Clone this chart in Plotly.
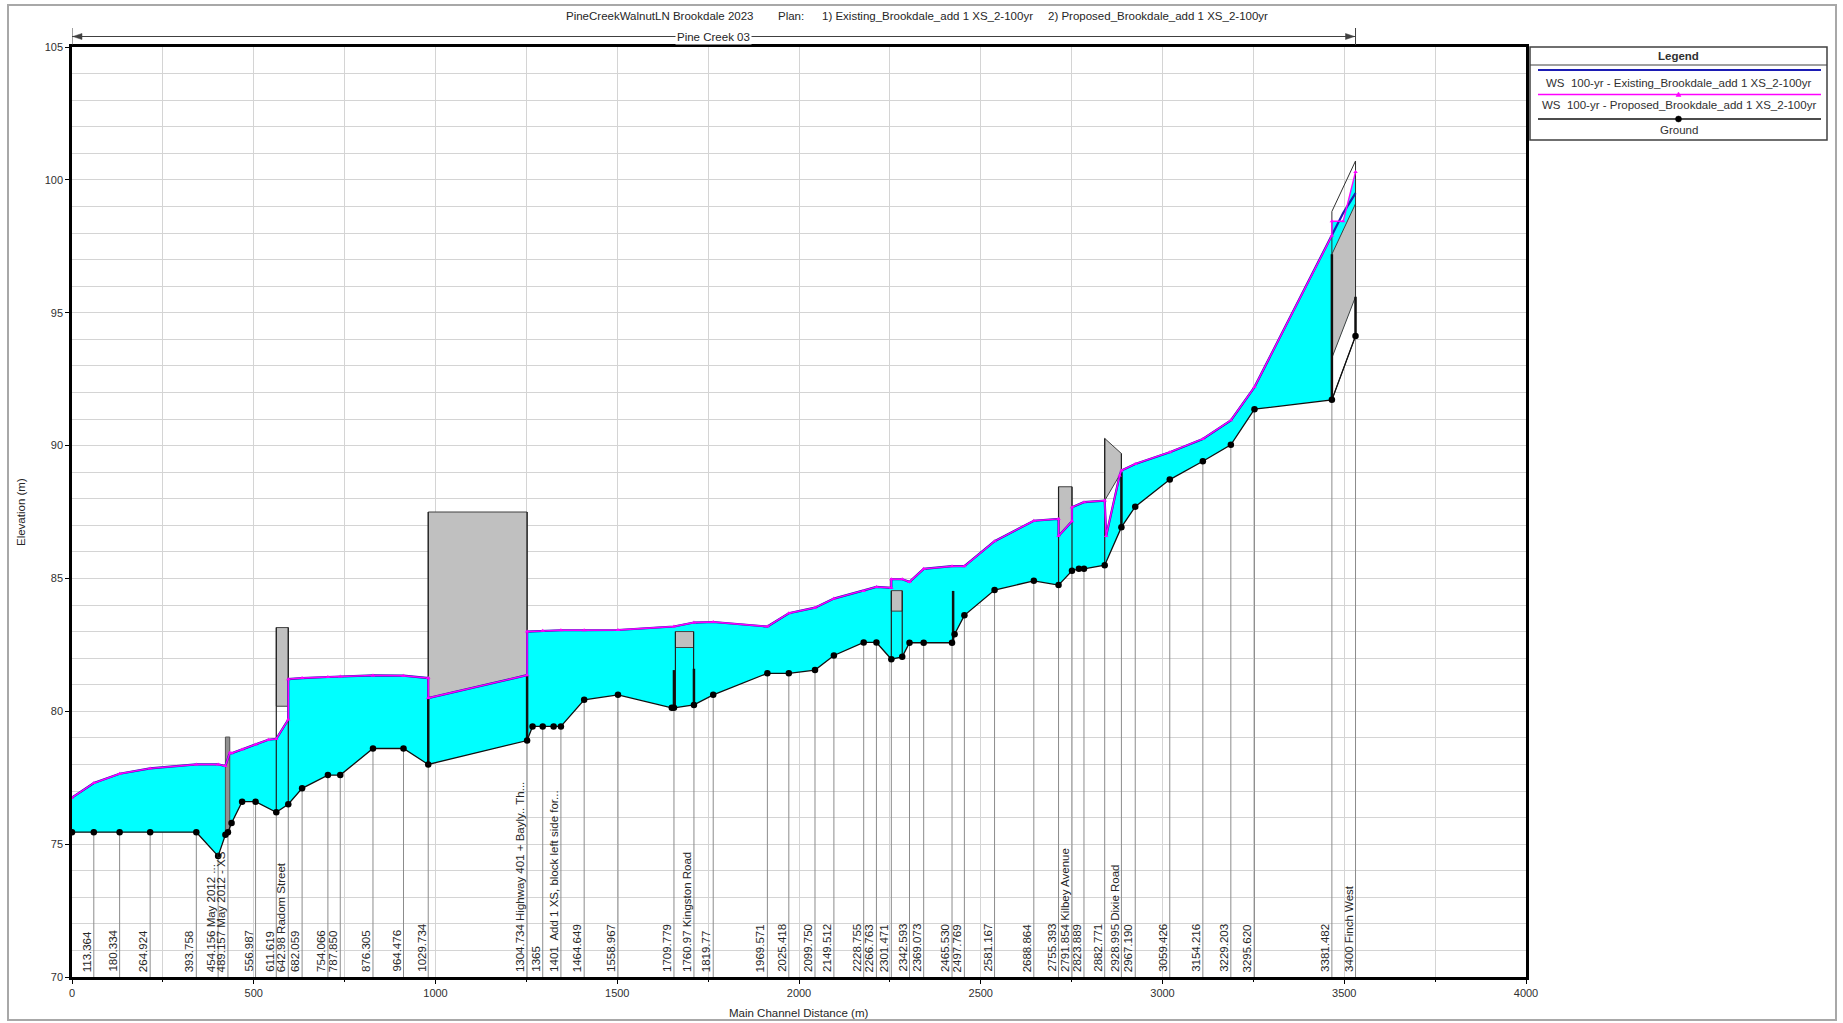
import numpy as np
import plotly.graph_objects as go

# ---------------- canvas / layout (pixels) ----------------
W, H = 1843, 1023
PL, PR, PT, PB = 72, 1526, 47, 977

FONT = "Liberation Sans, Arial, sans-serif"

# ---------------- text ----------------
title_parts = ["PineCreekWalnutLN Brookdale 2023", "Plan:",
               "1) Existing_Brookdale_add 1 XS_2-100yr",
               "2) Proposed_Brookdale_add 1 XS_2-100yr"]
title_x_px = [564, 776, 820, 1046]

reach_name = "Pine Creek 03"
reach_start, reach_end = 0, 3531

legend_names = ["WS  100-yr - Existing_Brookdale_add 1 XS_2-100yr",
                "WS  100-yr - Proposed_Brookdale_add 1 XS_2-100yr",
                "Ground"]

# ---------------- cross sections ----------------
xs_dist = [60, 131, 215, 342, 402, 429, 505, 562, 595, 633, 704, 738, 828, 912, 980,
           1252, 1295, 1345, 1409, 1502, 1656, 1711, 1764, 1913, 1972, 2044, 2096,
           2178, 2213, 2254, 2304, 2343, 2421, 2455, 2538, 2646, 2714, 2751, 2784,
           2841, 2887, 2925, 3020, 3111, 3188, 3253, 3466, 3531]
xs_labels = ["113.364", "180.334", "264.924", "393.758", "454.156 May 2012 ...",
             "489.157 May 2012 - XS", "556.987", "611.619", "642.98 Radom Street",
             "682.059", "754.066", "787.850", "876.305", "964.476", "1029.734",
             "1304.734 Highway 401 + Bayly.. Th...", "1365",
             "1401  Add 1 XS, block left side for...", "1464.649", "1558.967",
             "1709.779", "1760.97 Kingston Road", "1819.77", "1969.571", "2025.418",
             "2099.750", "2149.512", "2228.755", "2266.763", "2301.471", "2342.593",
             "2369.073", "2465.530", "2497.769", "2581.167", "2688.864", "2755.393",
             "2791.854 Kilbey Avenue", "2823.889", "2882.771", "2928.995 Dixie Road",
             "2967.190", "3059.426", "3154.216", "3229.203", "3295.620", "3381.482",
             "3400 Finch West"]

# ---------------- ground profile ----------------
ground_dist = [0, 60, 131, 215, 342, 402, 422, 429, 439, 468, 505, 562, 595, 633, 704,
               738, 828, 912, 980, 1252, 1267, 1295, 1325, 1345, 1409, 1502, 1650, 1656,
               1711, 1764, 1913, 1972, 2044, 2096, 2178, 2213, 2254, 2284, 2304, 2343,
               2421, 2428, 2455, 2538, 2646, 2714, 2751, 2770, 2784, 2841, 2887, 2925,
               3020, 3111, 3188, 3253, 3466, 3531]
ground_elev = [75.45, 75.45, 75.45, 75.45, 75.45, 74.55, 75.35, 75.45, 75.8, 76.6, 76.6,
               76.2, 76.5, 77.1, 77.6, 77.6, 78.6, 78.6, 78.0, 78.9, 79.43, 79.43, 79.43,
               79.43, 80.43, 80.62, 80.13, 80.13, 80.24, 80.62, 81.43, 81.43, 81.55, 82.1,
               82.59, 82.59, 81.96, 82.05, 82.58, 82.58, 82.58, 82.9, 83.61, 84.56, 84.91,
               84.75, 85.29, 85.36, 85.36, 85.5, 86.93, 87.7, 88.72, 89.41, 90.03, 91.37,
               91.72, 94.12]

# ---------------- water surface profiles ----------------
ws_dist = [0, 60, 131, 215, 342, 402, 422, 434, 439, 468, 505, 540, 562, 595, 595, 633,
           704, 738, 828, 912, 980, 980, 1252, 1252, 1295, 1345, 1409, 1502, 1656, 1711,
           1764, 1913, 1972, 2044, 2096, 2178, 2213, 2254, 2254, 2284, 2304, 2343, 2421,
           2455, 2538, 2646, 2714, 2714, 2751, 2751, 2784, 2841, 2845, 2882, 2887, 2925,
           3020, 3111, 3188, 3253, 3466, 3466, 3497, 3531]
ws_prop = [76.75, 77.3, 77.65, 77.85, 78.0, 78.0, 77.94, 78.44, 78.42, 78.56, 78.75,
           78.93, 78.96, 79.69, 81.21, 81.25, 81.29, 81.31, 81.35, 81.34, 81.25, 80.5,
           81.36, 83.0, 83.03, 83.05, 83.05, 83.06, 83.19, 83.34, 83.36, 83.19, 83.69,
           83.9, 84.24, 84.53, 84.68, 84.65, 84.97, 84.97, 84.87, 85.36, 85.46, 85.46,
           86.4, 87.17, 87.24, 86.6, 87.15, 87.68, 87.87, 87.93, 86.6, 88.87, 89.06,
           89.31, 89.75, 90.25, 90.95, 92.2, 97.9, 98.44, 98.44, 100.3]
ws_exist = [76.75, 77.3, 77.65, 77.85, 78.0, 78.0, 77.94, 78.44, 78.42, 78.56, 78.75,
            78.93, 78.96, 79.69, 81.21, 81.25, 81.29, 81.31, 81.35, 81.34, 81.25, 80.5,
            81.36, 83.0, 83.03, 83.05, 83.05, 83.06, 83.19, 83.34, 83.36, 83.19, 83.69,
            83.9, 84.24, 84.53, 84.68, 84.65, 84.97, 84.97, 84.87, 85.36, 85.46, 85.46,
            86.4, 87.17, 87.24, 86.6, 87.15, 87.68, 87.87, 87.93, 86.6, 88.87, 89.06,
            89.31, 89.75, 90.25, 90.95, 92.2, 97.9, 97.9, 98.75, 99.5]

# ---------------- structures ----------------
deck_x0 = [562, 1660, 2254]
deck_x1 = [595, 1710, 2284]
deck_top = [83.15, 83.0, 84.54]
deck_bot = [80.19, 82.4, 83.77]

culvert401_x = [980, 1252, 1252, 980]
culvert401_y = [87.5, 87.5, 81.36, 80.5]
kilbey_x = [2714, 2751, 2751, 2714]
kilbey_y = [88.45, 88.45, 87.15, 86.6]
dixie_x = [2841, 2887, 2887, 2841]
dixie_y = [90.27, 89.7, 89.0, 87.93]
finch_x = [3466, 3531, 3531, 3466]
finch_gray_y = [93.3, 95.6, 99.1, 97.2]
finch_open_y = [91.72, 94.12, 95.6, 93.3]
finch_outline_x = [3466, 3466, 3531, 3531]
finch_outline_y = [91.72, 98.81, 100.71, 94.12]
weir_x = [422, 434]
weir_y = [75.4, 79.03]

face_x = [562, 595, 980, 1252, 1660, 1710, 2254, 2284, 2714, 2751, 2841, 2887]
face_top = [83.15, 83.15, 87.5, 87.5, 83.0, 83.0, 84.54, 84.54, 88.45, 88.45, 90.27, 89.7]

thick_x = [980, 1252, 1656, 1711, 2424, 2887, 3466, 3531]
thick_y0 = [78.0, 78.9, 80.13, 80.24, 82.58, 86.93, 91.72, 94.12]
thick_y1 = [80.5, 81.36, 81.55, 81.6, 84.53, 89.0, 97.2, 95.6]

# ---------------- helpers ----------------
def pxx(p):
    return (p - PL) / (PR - PL)

def pxy(p):
    return (PB - p) / (PB - PT)

def seg_xy(xs, y0s, y1s):
    X, Y = [], []
    for x, a, b in zip(xs, y0s, y1s):
        X += [x, x, None]
        Y += [a, b, None]
    return X, Y

fig = go.Figure()

# water fill (ground -> proposed WS)
fill_x = list(ws_dist) + list(ground_dist[::-1])
fill_y = list(ws_prop) + list(ground_elev[::-1])
fig.add_trace(go.Scatter(x=fill_x, y=fill_y, fill="toself", fillcolor="#00ffff",
                         line=dict(width=0), mode="lines", hoverinfo="skip",
                         showlegend=False))

# cross-section station lines
g_at_xs = np.interp(xs_dist, ground_dist, ground_elev)
lx, ly = seg_xy(xs_dist, [70] * len(xs_dist), g_at_xs)
fig.add_trace(go.Scatter(x=lx, y=ly, mode="lines", line=dict(color="#8c8c8c", width=1),
                         hoverinfo="skip", showlegend=False))

def poly(x, y, fill, line="#404040", lw=1):
    fig.add_trace(go.Scatter(x=list(x) + [x[0]], y=list(y) + [y[0]], fill="toself",
                             fillcolor=fill, mode="lines",
                             line=dict(color=line, width=lw), hoverinfo="skip",
                             showlegend=False))

# decks
for a, b, t, bt in zip(deck_x0, deck_x1, deck_top, deck_bot):
    poly([a, b, b, a], [t, t, bt, bt], "#c0c0c0")
poly(culvert401_x, culvert401_y, "#c0c0c0")
poly(kilbey_x, kilbey_y, "#c0c0c0")
poly(dixie_x, dixie_y, "#c0c0c0")
poly(finch_x, finch_open_y, "#ffffff", line="#ffffff", lw=0.5)
poly(finch_x, finch_gray_y, "#c0c0c0")
poly([weir_x[0], weir_x[1], weir_x[1], weir_x[0]],
     [weir_y[0], weir_y[0], weir_y[1], weir_y[1]], "#909090", line="#505050")
fig.add_trace(go.Scatter(x=finch_outline_x + [finch_outline_x[0]],
                         y=finch_outline_y + [finch_outline_y[0]], mode="lines",
                         line=dict(color="#303030", width=1), hoverinfo="skip",
                         showlegend=False))

# structure faces
g_at_face = np.interp(face_x, ground_dist, ground_elev)
fx, fy = seg_xy(face_x, g_at_face, face_top)
fig.add_trace(go.Scatter(x=fx, y=fy, mode="lines", line=dict(color="#202020", width=1.2),
                         hoverinfo="skip", showlegend=False))
tx, ty = seg_xy(thick_x, thick_y0, thick_y1)
fig.add_trace(go.Scatter(x=tx, y=ty, mode="lines", line=dict(color="#101010", width=2.5),
                         hoverinfo="skip", showlegend=False))

# water surfaces
fig.add_trace(go.Scatter(x=ws_dist, y=ws_exist, mode="lines", name=legend_names[0],
                         line=dict(color="#1c1cb4", width=2.2), showlegend=False))
fig.add_trace(go.Scatter(x=ws_dist, y=ws_prop, mode="lines+markers", name=legend_names[1],
                         line=dict(color="#ff00ff", width=1.4),
                         marker=dict(symbol="triangle-up", size=4, color="#ff00ff"),
                         showlegend=False))
# ground
fig.add_trace(go.Scatter(x=ground_dist, y=ground_elev, mode="lines+markers",
                         name=legend_names[2], line=dict(color="#101010", width=1.3),
                         marker=dict(symbol="circle", size=6.5, color="#000000"),
                         showlegend=False))

annotations = []
shapes = []
TXT = "#262626"

# XS labels
for d, lab in zip(xs_dist, xs_labels):
    annotations.append(dict(x=d, y=70, xref="x", yref="y", text=lab, textangle=-90,
                            showarrow=False, xanchor="right", yanchor="bottom",
                            xshift=1, yshift=3,
                            font=dict(family=FONT, size=11.5, color=TXT)))

# title pieces
for t, xp in zip(title_parts, title_x_px):
    annotations.append(dict(x=pxx(xp), y=pxy(16), xref="paper", yref="paper", text=t,
                            showarrow=False, xanchor="left", yanchor="middle",
                            font=dict(family=FONT, size=11.5, color=TXT)))

# reach header line with arrows
ry = pxy(36.5)
shapes.append(dict(type="line", xref="x", yref="paper", x0=reach_start, x1=reach_end,
                   y0=ry, y1=ry, line=dict(color="#404040", width=1)))
for xe in (reach_start, reach_end):
    shapes.append(dict(type="line", xref="x", yref="paper", x0=xe, x1=xe,
                       y0=pxy(28), y1=pxy(45), line=dict(color="#404040", width=1)))
ax0 = PL
ax1 = PL + (reach_end - 0) / 4000 * (PR - PL)
def tri(xtip, dirn):
    pts = [(xtip, 36.5), (xtip + dirn * 9, 33.5), (xtip + dirn * 9, 39.5)]
    return "M " + " L ".join(f"{pxx(a):.5f},{pxy(b):.5f}" for a, b in pts) + " Z"
shapes.append(dict(type="path", xref="paper", yref="paper", path=tri(ax0 + 1, 1),
                   fillcolor="#404040", line=dict(color="#404040", width=0.5)))
shapes.append(dict(type="path", xref="paper", yref="paper", path=tri(ax1 - 1, -1),
                   fillcolor="#404040", line=dict(color="#404040", width=0.5)))
annotations.append(dict(x=(reach_start + reach_end) / 2, y=ry, xref="x", yref="paper",
                        text=reach_name, showarrow=False, bgcolor="#ffffff",
                        xanchor="center", yanchor="middle", borderpad=1,
                        font=dict(family=FONT, size=11.5, color=TXT)))

# axis titles
annotations.append(dict(x=0.5, y=pxy(1013), xref="paper", yref="paper",
                        text="Main Channel Distance (m)", showarrow=False,
                        xanchor="center", yanchor="middle",
                        font=dict(family=FONT, size=11.5, color=TXT)))
annotations.append(dict(x=pxx(21), y=0.5, xref="paper", yref="paper",
                        text="Elevation (m)", showarrow=False, textangle=-90,
                        xanchor="center", yanchor="middle",
                        font=dict(family=FONT, size=11.5, color=TXT)))

# outer frame
shapes.append(dict(type="rect", xref="paper", yref="paper", x0=pxx(8), x1=pxx(1836),
                   y0=pxy(1020), y1=pxy(5), line=dict(color="#a8a8a8", width=2)))

# legend box (drawn)
LX0, LX1, LY0, LY1 = 1530, 1827, 47, 140
shapes.append(dict(type="rect", xref="paper", yref="paper", x0=pxx(LX0), x1=pxx(LX1),
                   y0=pxy(LY1), y1=pxy(LY0), fillcolor="#ffffff",
                   line=dict(color="#404040", width=1.5)))
shapes.append(dict(type="line", xref="paper", yref="paper", x0=pxx(LX0), x1=pxx(LX1),
                   y0=pxy(65), y1=pxy(65), line=dict(color="#404040", width=1)))
annotations.append(dict(x=pxx((LX0 + LX1) / 2), y=pxy(55.5), xref="paper", yref="paper",
                        text="<b>Legend</b>", showarrow=False, xanchor="center",
                        yanchor="middle", font=dict(family=FONT, size=11.5, color="#303030")))
leg_line_y = [70, 94.5, 119]
leg_text_y = [83, 105.5, 129.5]
leg_colors = ["#1c1cb4", "#ff00ff", "#101010"]
leg_widths = [2.2, 1.5, 1.3]
for nm, yl, yt, c, w in zip(legend_names, leg_line_y, leg_text_y, leg_colors, leg_widths):
    shapes.append(dict(type="line", xref="paper", yref="paper", x0=pxx(1538),
                       x1=pxx(1821), y0=pxy(yl), y1=pxy(yl), line=dict(color=c, width=w)))
    annotations.append(dict(x=pxx((LX0 + LX1) / 2), y=pxy(yt), xref="paper",
                            yref="paper", text=nm, showarrow=False, xanchor="center",
                            yanchor="middle",
                            font=dict(family=FONT, size=11.5, color="#303030")))
cx = (LX0 + LX1) / 2
shapes.append(dict(type="path", xref="paper", yref="paper",
                   path=f"M {pxx(cx):.5f},{pxy(92):.5f} L {pxx(cx-2.5):.5f},{pxy(96.5):.5f} "
                        f"L {pxx(cx+2.5):.5f},{pxy(96.5):.5f} Z",
                   fillcolor="#ff00ff", line=dict(color="#ff00ff", width=0.5)))
shapes.append(dict(type="circle", xref="paper", yref="paper", x0=pxx(cx - 3),
                   x1=pxx(cx + 3), y0=pxy(122), y1=pxy(116), fillcolor="#000000",
                   line=dict(color="#000000", width=0.5)))

fig.update_layout(
    width=W, height=H,
    margin=dict(l=PL, r=W - PR, t=PT, b=H - PB, pad=0),
    paper_bgcolor="#ffffff", plot_bgcolor="#ffffff",
    showlegend=False,
    annotations=annotations, shapes=shapes,
    font=dict(family=FONT, size=11, color=TXT),
)
fig.update_xaxes(range=[0, 4000], tickvals=list(range(0, 4001, 500)),
                 showgrid=True, gridcolor="#d4d4d4", gridwidth=1,
                 minor=dict(dtick=250, tick0=0, showgrid=True, gridcolor="#d4d4d4",
                            ticks="outside", ticklen=2, tickcolor="#000000"),
                 showline=True, linecolor="#000000", linewidth=2.5, mirror=True,
                 ticks="outside", ticklen=4, tickcolor="#000000",
                 tickfont=dict(family=FONT, size=11, color="#303030"), zeroline=False)
fig.update_yaxes(range=[70, 105], tickvals=list(range(70, 106, 5)),
                 showgrid=True, gridcolor="#d4d4d4", gridwidth=1,
                 minor=dict(dtick=1, tick0=70, showgrid=True, gridcolor="#d4d4d4"),
                 showline=True, linecolor="#000000", linewidth=2.5, mirror=True,
                 ticks="outside", ticklen=4, tickcolor="#000000",
                 tickfont=dict(family=FONT, size=11, color="#303030"), zeroline=False)

fig.write_html("out.html", config={"displayModeBar": False},
               post_script="document.body.style.margin='0px';"
                           "document.body.style.overflow='hidden';")
